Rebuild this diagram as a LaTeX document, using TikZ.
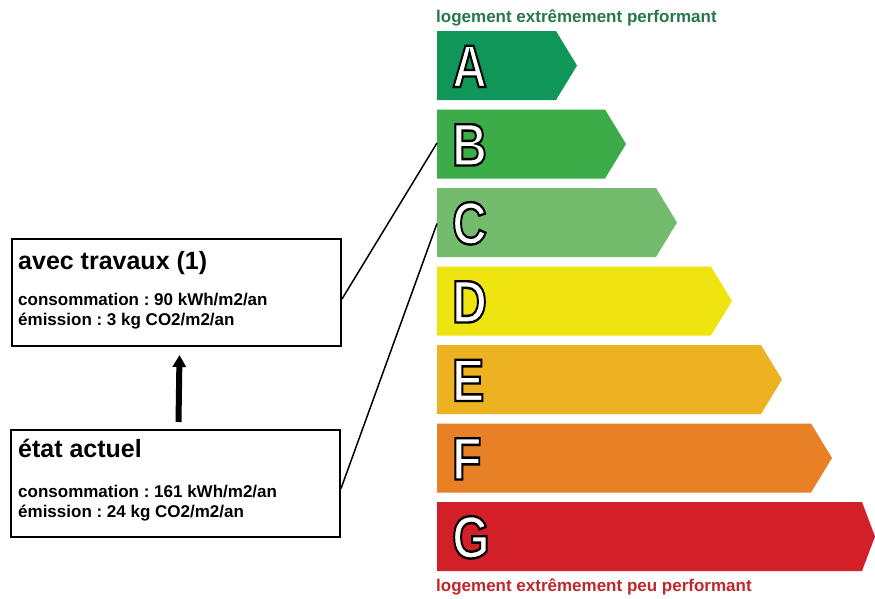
\documentclass[tikz,border=0pt]{standalone}
\usepackage{fontspec}
\setmainfont{Liberation Sans}
\usepackage{graphicx}
\usetikzlibrary{arrows.meta,calc}
\frenchspacing
\definecolor{cA}{RGB}{17,150,90}
\definecolor{cB}{RGB}{60,172,73}
\definecolor{cC}{RGB}{115,188,110}
\definecolor{cD}{RGB}{238,228,15}
\definecolor{cE}{RGB}{236,178,34}
\definecolor{cF}{RGB}{232,128,38}
\definecolor{cG}{RGB}{211,31,39}
\definecolor{txtgreen}{RGB}{40,120,75}
\definecolor{txtred}{RGB}{190,40,40}
\newcommand{\outlinedletter}[1]{\color{white}\scalebox{0.8}[1]{\special{pdf:literal direct 0 G 2.4 w 2 Tr}#1\special{pdf:literal direct 0 Tr}}}
\newcommand{\energybar}[4]{% name, top, tip x, colour
  \fill[#4] (437,#2) -- ({#3-21},#2) -- (#3,{#2+34.5}) -- ({#3-21},{#2+69}) -- (437,{#2+69}) -- cycle;
  \coordinate (#1w) at (437,{#2+34.5});
  \node[letter, anchor=base west] (#1l) at (452,{#2+56}) {\outlinedletter{#1}};
}
\begin{document}
\begin{tikzpicture}[x=1pt,y=-1pt,
  letter/.style={inner sep=0pt, font=\fontsize{60}{60}\selectfont\bfseries},
  infobox/.style={draw=black, line width=2pt, inner sep=0pt, minimum width=329pt, minimum height=107pt, anchor=north west},
  titletext/.style={inner sep=0pt, anchor=base west, font=\fontsize{25}{25}\selectfont\bfseries},
  bodytext/.style={inner sep=0pt, anchor=base west, font=\fontsize{17}{17}\selectfont\bfseries},
  scaletext/.style={inner sep=0pt, anchor=base west, font=\fontsize{17}{17}\selectfont\bfseries},
  connector/.style={draw=black, line width=1.5pt}]
\useasboundingbox (0,0) rectangle (875,598);
\fill[white] (0,0) rectangle (875,598);

\node[scaletext, text=txtgreen] (top) at (436,22) {logement extrêmement performant};
\energybar{A}{31}{577}{cA}
\energybar{B}{109.5}{626}{cB}
\energybar{C}{188}{677}{cC}
\energybar{D}{266.5}{732}{cD}
\energybar{E}{345}{782}{cE}
\energybar{F}{423.5}{832}{cF}
\fill[cG] (437,502) -- (862,502) -- (875,536.5) -- (862,571) -- (437,571) -- cycle;
\coordinate (Gw) at (437,536.5);
\node[letter, anchor=base west] (Gl) at (452,558) {\outlinedletter{G}};
\node[scaletext, text=txtred] (bottom) at (436,591) {logement extrêmement peu performant};

\node[infobox] (travaux) at (11,238) {};
\node[titletext] (t1) at (18,269) {avec travaux (1)};
\node[bodytext] (c1) at (18,305) {consommation : 90 kWh/m2/an};
\node[bodytext] (e1) at (18,325) {émission : 3 kg CO2/m2/an};

\node[infobox] (actuel) at (10,429) {};
\node[titletext] (t2) at (18,457) {état actuel};
\node[bodytext] (c2) at (18,497) {consommation : 161 kWh/m2/an};
\node[bodytext] (e2) at (18,517) {émission : 24 kg CO2/m2/an};

\draw[line width=6pt, -{Triangle[width=13pt,length=12pt]}] ([xshift=3pt,yshift=7pt]actuel.north) -- ([xshift=3pt,yshift=-8pt]travaux.south);
\draw[connector] ([yshift=-6.5pt]travaux.east) -- ([yshift=1pt]Bw);
\draw[connector] ([yshift=-5pt]actuel.east) -- ([yshift=-1pt]Cw);
\end{tikzpicture}
\end{document}
